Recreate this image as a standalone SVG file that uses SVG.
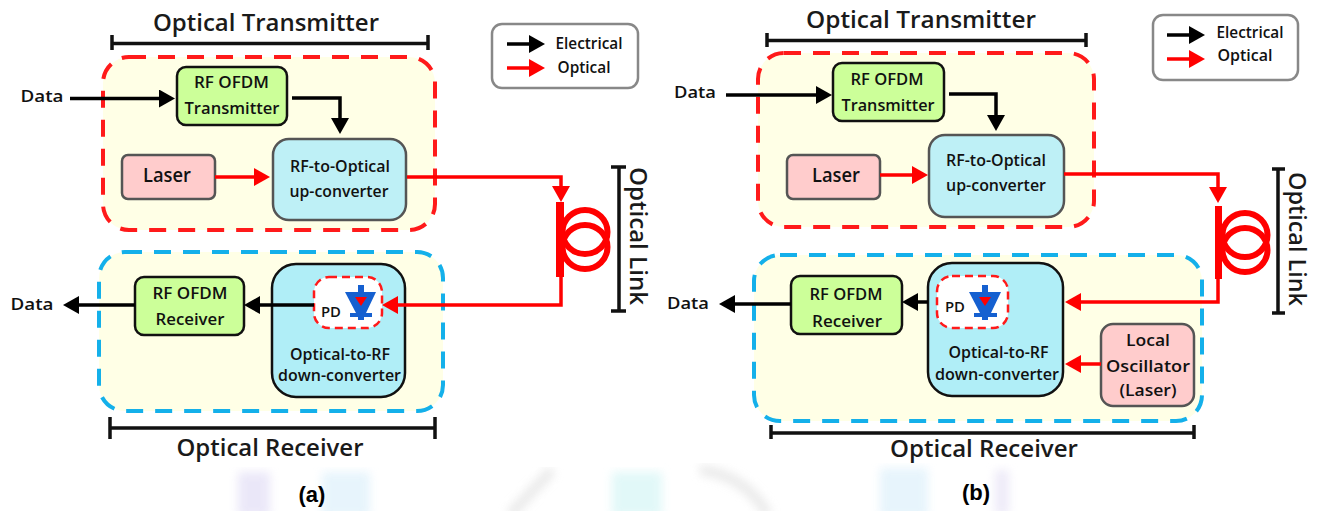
<svg xmlns="http://www.w3.org/2000/svg" width="1317" height="511" viewBox="0 0 1317 511">
<style>
text{font-family:"Open Sans","Noto Sans","Liberation Sans",sans-serif;font-weight:600;fill:#111;text-anchor:middle}
.t{font-size:17px}
.s{font-size:16px}
.l{font-size:19px}
.pt{font-size:15px}
.h{font-size:24px;font-weight:600;fill:#1a1a1a}
.c{font-family:"Liberation Sans",Arial,sans-serif;font-size:22px;font-weight:700;fill:#000}
.red{fill:#ffffe6;stroke:#ff1a1a;stroke-width:4}
.blue{fill:#ffffe6;stroke:#14b0ea;stroke-width:4}
.g{fill:#ccff99;stroke:#111;stroke-width:2.500}
.p{fill:#ffcccc;stroke:#555;stroke-width:2.500}
.u{fill:#bef0f6;stroke:#555;stroke-width:2.500}
.d{fill:#b0eef7;stroke:#111;stroke-width:2.500}
.pd{fill:#fff;stroke:#ff1a1a;stroke-width:2.500}
.leg{fill:#fff;stroke:#888;stroke-width:2.500}
.br{fill:none;stroke:#111;stroke-width:3.500}
.e{fill:none;stroke:#000;stroke-width:3.500;marker-end:url(#ah)}
.o{fill:none;stroke:#ff0000;stroke-width:3.500;marker-end:url(#rh)}
.coil{fill:none;stroke:#ff0000;stroke-width:6}
.bar{fill:#ff0000}
.db{fill:#1560d0}
.dr{fill:#ff0000}
</style>
<defs>
<marker id="ah" markerUnits="userSpaceOnUse" markerWidth="17" markerHeight="18" viewBox="0 0 17 18" refX="10" refY="9" orient="auto"><path d="M0 0L16 9L0 18Z" fill="#000"/></marker>
<marker id="rh" markerUnits="userSpaceOnUse" markerWidth="17" markerHeight="18" viewBox="0 0 17 18" refX="10" refY="9" orient="auto"><path d="M0 0L16 9L0 18Z" fill="#ff0000"/></marker>
<filter id="soft" x="-30%" y="-30%" width="160%" height="160%"><feGaussianBlur stdDeviation="5"/></filter>
</defs>
<rect width="1317" height="511" fill="#fff"/>
<g id="watermark" filter="url(#soft)" opacity="0.75">
<rect x="238" y="472" width="32" height="45" fill="#e4e0f6"/>
<rect x="322" y="472" width="48" height="45" fill="#dff1fb"/>
<path d="M552 470L510 515" stroke="#e2e2e2" stroke-width="10" fill="none"/>
<rect x="612" y="472" width="50" height="45" fill="#d8f6f6"/>
<path d="M700 470Q745 475 768 515" stroke="#e2e2e2" stroke-width="10" fill="none"/>
<rect x="880" y="468" width="48" height="50" fill="#dff1fb"/>
<rect x="995" y="470" width="14" height="45" fill="#e8e4f6"/>
</g>
<rect x="0" y="0" width="664" height="467" fill="#fff"/>
<rect x="664" y="0" width="653" height="463" fill="#fff"/>

<g id="a-tx-box"><rect class="red" stroke-dasharray="17 12" x="103" y="57" width="332" height="173" rx="26"/></g>
<g id="a-rx-box"><rect class="blue" stroke-dasharray="17 12" x="99" y="252" width="344" height="159" rx="26"/></g>
<g id="b-tx-box"><rect class="red" stroke-dasharray="17 12" x="758" y="53" width="336" height="174" rx="26"/></g>
<g id="b-rx-box"><rect class="blue" stroke-dasharray="17 12" x="754" y="255" width="448" height="166" rx="26"/></g>

<g id="a-title"><text class="h" x="266" y="31" textLength="226" lengthAdjust="spacingAndGlyphs">Optical Transmitter</text><path class="br" d="M112 35V50M112 43.500H428M428 35V50"/></g>
<g id="a-rx-title"><text class="h" x="270" y="456" textLength="187" lengthAdjust="spacingAndGlyphs">Optical Receiver</text><path class="br" d="M110 417V439M110 428H435M435 417V439"/></g>
<g id="a-rf-tx"><rect class="g" x="177" y="67" width="110" height="58" rx="9"/><text class="t" x="231.500" y="88" textLength="75" lengthAdjust="spacingAndGlyphs">RF OFDM</text><text class="t" x="232" y="114" textLength="95" lengthAdjust="spacingAndGlyphs">Transmitter</text></g>
<g id="a-laser"><rect class="p" x="122" y="155" width="93" height="44" rx="6"/><text class="l" x="167" y="182" textLength="48" lengthAdjust="spacingAndGlyphs">Laser</text></g>
<g id="a-up"><rect class="u" x="273" y="139" width="133" height="81" rx="16"/><text class="s" x="340" y="172" textLength="100" lengthAdjust="spacingAndGlyphs">RF-to-Optical</text><text class="s" x="339" y="197" textLength="99" lengthAdjust="spacingAndGlyphs">up-converter</text></g>
<g id="a-rf-rx"><rect class="g" x="135" y="277" width="109" height="58" rx="9"/><text class="t" x="190" y="299" textLength="75" lengthAdjust="spacingAndGlyphs">RF OFDM</text><text class="t" x="190" y="325" textLength="69" lengthAdjust="spacingAndGlyphs">Receiver</text></g>
<g id="a-down"><rect class="d" x="272" y="264" width="133" height="133" rx="24"/><text class="s" x="340" y="360" textLength="100" lengthAdjust="spacingAndGlyphs">Optical-to-RF</text><text class="s" x="339.500" y="381" textLength="123" lengthAdjust="spacingAndGlyphs">down-converter</text></g>
<g id="a-pd"><rect class="pd" stroke-dasharray="8 5" x="314" y="277" width="68" height="51" rx="15"/><path class="db" d="M358 285H364V292H376L366 313H372V317H364V320H358V317H350V313H356L345 292H358Z"/><path class="dr" d="M355 297H367L361 306Z"/><text class="pt" x="331" y="317" textLength="20" lengthAdjust="spacingAndGlyphs">PD</text></g>
<g id="a-data-in"><text class="t" x="42" y="102" textLength="43" lengthAdjust="spacingAndGlyphs">Data</text></g>
<g id="a-data-out"><text class="t" x="32" y="310" textLength="43" lengthAdjust="spacingAndGlyphs">Data</text></g>
<g id="a-fiber"><rect class="bar" x="556" y="202" width="8" height="75"/><ellipse class="coil" cx="585" cy="232" rx="22.500" ry="22"/><ellipse class="coil" cx="585" cy="247" rx="22.500" ry="22"/></g>
<g id="a-link"><path class="br" d="M611 167H626M619 167V311M611 311H626"/><text class="h" transform="translate(630 236) rotate(90)" x="0" y="0" textLength="138" lengthAdjust="spacingAndGlyphs">Optical Link</text></g>
<g id="a-legend"><rect class="leg" x="492" y="24" width="146" height="64" rx="10"/><text class="s" x="589" y="49" textLength="67" lengthAdjust="spacingAndGlyphs">Electrical</text><text class="s" x="584" y="73" textLength="53" lengthAdjust="spacingAndGlyphs">Optical</text></g>
<text class="c" x="312" y="502">(a)</text>

<g id="b-title"><text class="h" x="921" y="28" textLength="230" lengthAdjust="spacingAndGlyphs">Optical Transmitter</text><path class="br" d="M767 33V47M767 40.500H1086M1086 33V47"/></g>
<g id="b-rx-title"><text class="h" x="984" y="457" textLength="188" lengthAdjust="spacingAndGlyphs">Optical Receiver</text><path class="br" d="M771 425V439M771 433H1194M1194 425V439"/></g>
<g id="b-rf-tx"><rect class="g" x="833" y="63" width="111" height="58" rx="9"/><text class="t" x="887" y="85" textLength="73" lengthAdjust="spacingAndGlyphs">RF OFDM</text><text class="t" x="888" y="111" textLength="93" lengthAdjust="spacingAndGlyphs">Transmitter</text></g>
<g id="b-laser"><rect class="p" x="787" y="155" width="93" height="44" rx="6"/><text class="l" x="836" y="182" textLength="48" lengthAdjust="spacingAndGlyphs">Laser</text></g>
<g id="b-up"><rect class="u" x="929" y="135" width="135" height="82" rx="16"/><text class="s" x="996" y="166" textLength="100" lengthAdjust="spacingAndGlyphs">RF-to-Optical</text><text class="s" x="996" y="191" textLength="100" lengthAdjust="spacingAndGlyphs">up-converter</text></g>
<g id="b-rf-rx"><rect class="g" x="791" y="276" width="111" height="58" rx="9"/><text class="t" x="846" y="300" textLength="73" lengthAdjust="spacingAndGlyphs">RF OFDM</text><text class="t" x="847" y="327" textLength="70" lengthAdjust="spacingAndGlyphs">Receiver</text></g>
<g id="b-down"><rect class="d" x="928" y="263" width="135" height="133" rx="24"/><text class="s" x="998.500" y="358" textLength="100" lengthAdjust="spacingAndGlyphs">Optical-to-RF</text><text class="s" x="997" y="380" textLength="124" lengthAdjust="spacingAndGlyphs">down-converter</text></g>
<g id="b-pd"><rect class="pd" stroke-dasharray="8 5" x="937" y="276" width="71" height="52" rx="15"/><path class="db" d="M982 285H988V292H1001L991 313H997V317H988V320H982V317H974V313H980L969 292H982Z"/><path class="dr" d="M979 297H991L985 306Z"/><text class="pt" x="955" y="312" textLength="20" lengthAdjust="spacingAndGlyphs">PD</text></g>
<g id="b-lo"><rect class="p" x="1101" y="324" width="93" height="82" rx="12"/><text class="t" x="1148" y="346" textLength="44" lengthAdjust="spacingAndGlyphs">Local</text><text class="t" x="1148" y="372" textLength="84" lengthAdjust="spacingAndGlyphs">Oscillator</text><text class="t" x="1148" y="396" textLength="57" lengthAdjust="spacingAndGlyphs">(Laser)</text></g>
<g id="b-data-in"><text class="t" x="695" y="98" textLength="42" lengthAdjust="spacingAndGlyphs">Data</text></g>
<g id="b-data-out"><text class="t" x="688" y="309" textLength="42" lengthAdjust="spacingAndGlyphs">Data</text></g>
<g id="b-fiber"><rect class="bar" x="1215" y="206" width="7" height="73"/><ellipse class="coil" cx="1245" cy="235" rx="22.500" ry="22"/><ellipse class="coil" cx="1245" cy="250" rx="22.500" ry="22"/></g>
<g id="b-link"><path class="br" d="M1272 169H1285M1278 169V313M1272 313H1285"/><text class="h" transform="translate(1289 239) rotate(90)" x="0" y="0" textLength="134" lengthAdjust="spacingAndGlyphs">Optical Link</text></g>
<g id="b-legend"><rect class="leg" x="1153" y="15" width="145" height="65" rx="10"/><text class="s" x="1250" y="38" textLength="67" lengthAdjust="spacingAndGlyphs">Electrical</text><text class="s" x="1245" y="61" textLength="55" lengthAdjust="spacingAndGlyphs">Optical</text></g>
<text class="c" x="976" y="500">(b)</text>

<g id="connectors">
<path class="e" d="M70 98.500H169"/>
<path class="e" d="M292 98H340V128"/>
<path class="o" d="M215 177H264"/>
<path class="o" d="M407 177H561V196"/>
<path class="o" d="M561 277V305H388"/>
<path class="e" d="M314 305H250"/>
<path class="e" d="M135 305H69"/>
<path class="e" d="M726 95H826"/>
<path class="e" d="M949 94H996V125"/>
<path class="o" d="M880 175H922"/>
<path class="o" d="M1064 174H1218V197"/>
<path class="o" d="M1218 279V302H1071"/>
<path class="e" d="M928 302H908"/>
<path class="e" d="M791 304H725"/>
<path class="o" d="M1101 364H1071"/>
<path class="e" d="M507 44H539"/>
<path class="o" d="M507 68H539"/>
<path class="e" d="M1167 35H1199"/>
<path class="o" d="M1167 59H1199"/>
</g>
</svg>
